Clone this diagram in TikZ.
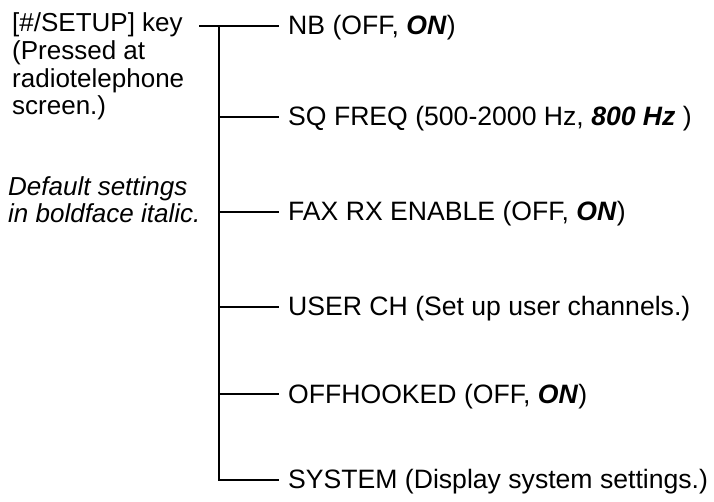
\documentclass[tikz,border=0pt]{standalone}
\usepackage{fontspec}
\setmainfont{Liberation Sans}
\begin{document}
\begin{tikzpicture}[x=1pt,y=-1pt,
  lbl/.style={anchor=base west,inner sep=0pt,font=\fontsize{26.6}{28}\selectfont},
  note/.style={anchor=base west,inner sep=0pt,align=left,font=\fontsize{26}{27.7}\selectfont},
  wire/.style={line width=1.3pt}]
\useasboundingbox (0,0) rectangle (714,502);
\node[note] (key) at (12,115) {[\#/SETUP] key\\(Pressed at\\radiotelephone\\screen.)};
\node[note] (dflt) at (8,223) {\itshape Default settings\\\itshape in boldface italic.};
\coordinate (k0) at (199,26);
\coordinate (top) at (219,26);
\coordinate (bot) at (219,480);
\node[lbl] (nb) at (288,35) {NB (OFF, \textbf{\textit{ON}})};
\node[lbl] (sq) at (288,126) {SQ FREQ (500-2000 Hz, \textbf{\textit{800 Hz}} )};
\node[lbl] (fax) at (288,221) {FAX RX ENABLE (OFF, \textbf{\textit{ON}})};
\node[lbl] (usr) at (288,316) {USER CH (Set up user channels.)};
\node[lbl] (off) at (288,403) {OFFHOOKED (OFF, \textbf{\textit{ON}})};
\node[lbl] (sys) at (288,488) {SYSTEM (Display system settings.)};
\coordinate (e1) at (279,26);
\coordinate (e2) at (279,117);
\coordinate (e3) at (279,212);
\coordinate (e4) at (279,307);
\coordinate (e5) at (279,394);
\coordinate (e6) at (279,480);
\draw[wire] (k0) -- (e1);
\draw[wire] (top) -- (bot) -- (e6);
\draw[wire] (top |- e2) -- (e2);
\draw[wire] (top |- e3) -- (e3);
\draw[wire] (top |- e4) -- (e4);
\draw[wire] (top |- e5) -- (e5);
\end{tikzpicture}
\end{document}
